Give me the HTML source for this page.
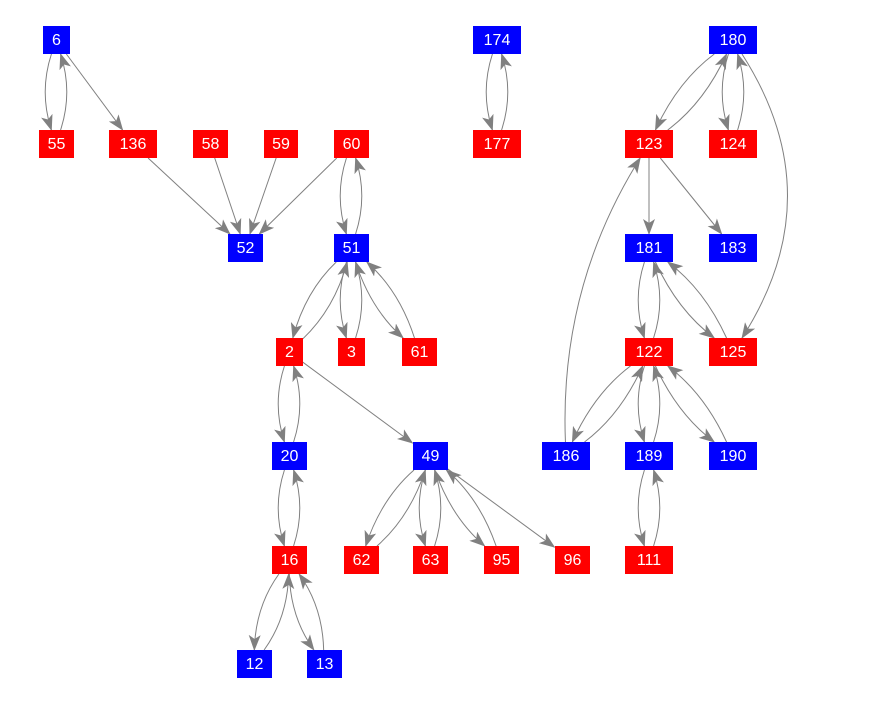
<!DOCTYPE html>
<html><head><meta charset="utf-8"><style>
body{margin:0;background:#fff;width:876px;height:704px;position:relative;overflow:hidden;font-family:"Liberation Sans",Arial,sans-serif}
.n{position:absolute;height:28px;color:#fff;font-size:16px;line-height:30px;text-align:center}
.r{background:#f00}.b{background:#00f}
svg{position:absolute;left:0;top:0}
</style></head><body>
<svg id="s" width="876" height="704"><defs><marker id="a" markerWidth="16" markerHeight="12" refX="15" refY="6" orient="auto" markerUnits="userSpaceOnUse"><path d="M0,0 L16,6 L0,12 L4,6 Z" fill="#808080"/></marker></defs></svg>
<div class="n b" style="left:43px;top:26px;width:27px">6</div>
<div class="n r" style="left:39px;top:130px;width:35px">55</div>
<div class="n r" style="left:109px;top:130px;width:48px">136</div>
<div class="n r" style="left:193px;top:130px;width:35px">58</div>
<div class="n r" style="left:264px;top:130px;width:34px">59</div>
<div class="n r" style="left:334px;top:130px;width:35px">60</div>
<div class="n b" style="left:228px;top:234px;width:35px">52</div>
<div class="n b" style="left:334px;top:234px;width:35px">51</div>
<div class="n r" style="left:276px;top:338px;width:27px">2</div>
<div class="n r" style="left:338px;top:338px;width:27px">3</div>
<div class="n r" style="left:402px;top:338px;width:35px">61</div>
<div class="n b" style="left:272px;top:442px;width:35px">20</div>
<div class="n b" style="left:413px;top:442px;width:35px">49</div>
<div class="n r" style="left:272px;top:546px;width:35px">16</div>
<div class="n r" style="left:344px;top:546px;width:35px">62</div>
<div class="n r" style="left:413px;top:546px;width:35px">63</div>
<div class="n r" style="left:484px;top:546px;width:35px">95</div>
<div class="n r" style="left:555px;top:546px;width:35px">96</div>
<div class="n b" style="left:237px;top:650px;width:35px">12</div>
<div class="n b" style="left:307px;top:650px;width:35px">13</div>
<div class="n b" style="left:473px;top:26px;width:48px">174</div>
<div class="n r" style="left:473px;top:130px;width:48px">177</div>
<div class="n b" style="left:709px;top:26px;width:48px">180</div>
<div class="n r" style="left:625px;top:130px;width:48px">123</div>
<div class="n r" style="left:709px;top:130px;width:48px">124</div>
<div class="n b" style="left:625px;top:234px;width:48px">181</div>
<div class="n b" style="left:709px;top:234px;width:48px">183</div>
<div class="n r" style="left:625px;top:338px;width:48px">122</div>
<div class="n r" style="left:709px;top:338px;width:48px">125</div>
<div class="n b" style="left:542px;top:442px;width:48px">186</div>
<div class="n b" style="left:625px;top:442px;width:48px">189</div>
<div class="n b" style="left:709px;top:442px;width:48px">190</div>
<div class="n r" style="left:625px;top:546px;width:48px">111</div>
<script>
var N={6:[56,40,27],55:[56,144,35],136:[133,144,48],58:[210,144,35],59:[281,144,34],60:[351,144,35],52:[245,248,35],51:[351,248,35],2:[289,352,27],3:[351,352,27],61:[419,352,35],20:[289,456,35],49:[430,456,35],16:[289,560,35],62:[361,560,35],63:[430,560,35],95:[501,560,35],96:[572,560,35],12:[254,664,35],13:[324,664,35],174:[497,40,48],177:[497,144,48],180:[733,40,48],123:[649,144,48],124:[733,144,48],181:[649,248,48],183:[733,248,48],122:[649,352,48],125:[733,352,48],186:[566,456,48],189:[649,456,48],190:[733,456,48],111:[649,560,48]};
function clip(n,tx,ty){var dx=tx-n[0],dy=ty-n[1];var t=Math.min(Math.abs(dx)>0.01?(n[2]/2)/Math.abs(dx):1e9,Math.abs(dy)>0.01?14/Math.abs(dy):1e9);return [n[0]+dx*t,n[1]+dy*t];}
var s=document.getElementById('s'),out='';
function E(a,b,bend){var A=N[a],B=N[b];var dx=B[0]-A[0],dy=B[1]-A[1],L=Math.hypot(dx,dy);var nx=-dy/L,ny=dx/L;var cx=(A[0]+B[0])/2+nx*bend,cy=(A[1]+B[1])/2+ny*bend;var p=clip(A,cx,cy),q=clip(B,cx,cy);out+='<path d="M'+p[0]+','+p[1]+' Q'+cx+','+cy+' '+q[0]+','+q[1]+'" fill="none" stroke="#808080" stroke-width="1" marker-end="url(#a)"/>';}
var bi=[[6,55],[60,51],[51,2],[51,3],[51,61],[2,20],[20,16],[16,12],[16,13],[49,62],[49,63],[49,95],[174,177],[180,123],[180,124],[181,122],[181,125],[122,186],[122,189],[122,190],[189,111]];
bi.forEach(function(p){E(p[0],p[1],17);E(p[1],p[0],17);});
[[6,136],[136,52],[58,52],[59,52],[60,52],[2,49],[49,96],[123,181],[123,183]].forEach(function(p){E(p[0],p[1],0);});
E(180,125,-100);E(186,123,-50);
s.insertAdjacentHTML('beforeend',out);
</script>
</body></html>
